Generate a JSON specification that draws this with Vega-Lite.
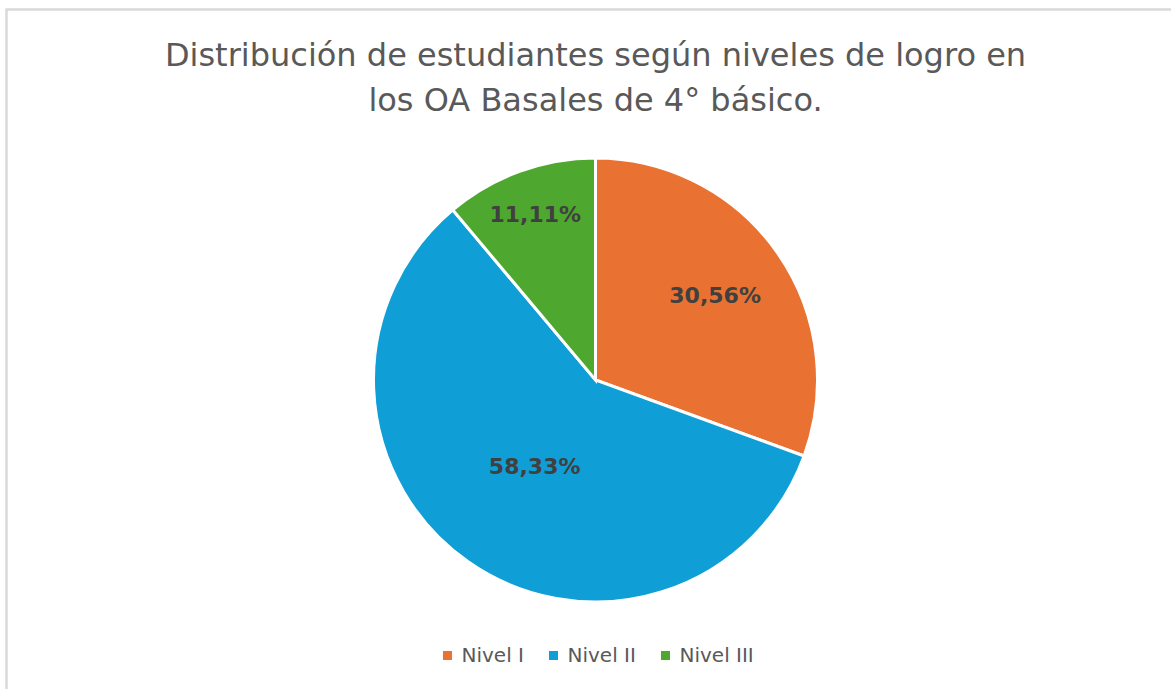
{
  "$schema": "https://vega.github.io/schema/vega-lite/v6.json",
  "autosize": {"type": "none"},
  "padding": {"left": 6.5, "top": 9.5, "right": -13.5, "bottom": -61.5},
  "width": 1178,
  "height": 741,
  "background": "white",
  "view": {"stroke": "#d9d9d9", "strokeWidth": 2.5},
  "config": {
    "view": {"stroke": "#d9d9d9", "strokeWidth": 2.5},
    "font": "DejaVu Sans"
  },
  "title": {
    "text": ["Distribución de estudiantes según niveles de logro en", "los OA Basales de 4° básico."],
    "fontSize": 32,
    "font": "DejaVu Sans",
    "fontWeight": "normal",
    "color": "#595959",
    "lineHeight": 45,
    "anchor": "middle",
    "baseline": "top",
    "offset": -108
  },
  "data": {
    "values": [
      {"nivel": "Nivel I", "pct": 30.56, "label": "30,56%", "orden": 1},
      {"nivel": "Nivel II", "pct": 58.33, "label": "58,33%", "orden": 2},
      {"nivel": "Nivel III", "pct": 11.11, "label": "11,11%", "orden": 3}
    ]
  },
  "encoding": {
    "theta": {"field": "pct", "type": "quantitative", "stack": true},
    "order": {"field": "orden", "type": "quantitative"}
  },
  "layer": [
    {
      "mark": {"type": "arc", "outerRadius": 222, "stroke": "white", "strokeWidth": 3},
      "encoding": {
        "color": {
          "field": "nivel",
          "type": "nominal",
          "sort": ["Nivel I", "Nivel II", "Nivel III"],
          "scale": {"domain": ["Nivel I", "Nivel II", "Nivel III"], "range": ["#E97132", "#0F9ED5", "#4EA72E"]},
          "legend": {
            "title": null,
            "orient": "none",
            "direction": "horizontal",
            "legendX": 431,
            "legendY": 636,
            "symbolType": "square",
            "symbolSize": 81,
            "symbolStrokeWidth": 0,
            "labelFontSize": 20,
            "labelFont": "DejaVu Sans",
            "labelColor": "#595959",
            "labelOffset": 4,
            "columnPadding": 19
          }
        }
      }
    },
    {
      "mark": {
        "type": "text",
        "font": "DejaVu Sans",
        "fontWeight": "bold",
        "fontSize": 22,
        "color": "#404040",
        "align": "center",
        "baseline": "middle",
        "radius": {"expr": "datum.nivel === 'Nivel I' ? 146 : datum.nivel === 'Nivel II' ? 106 : 176"}
      },
      "encoding": {
        "text": {"field": "label", "type": "nominal"},
        "detail": {"field": "nivel", "type": "nominal"}
      }
    }
  ]
}
